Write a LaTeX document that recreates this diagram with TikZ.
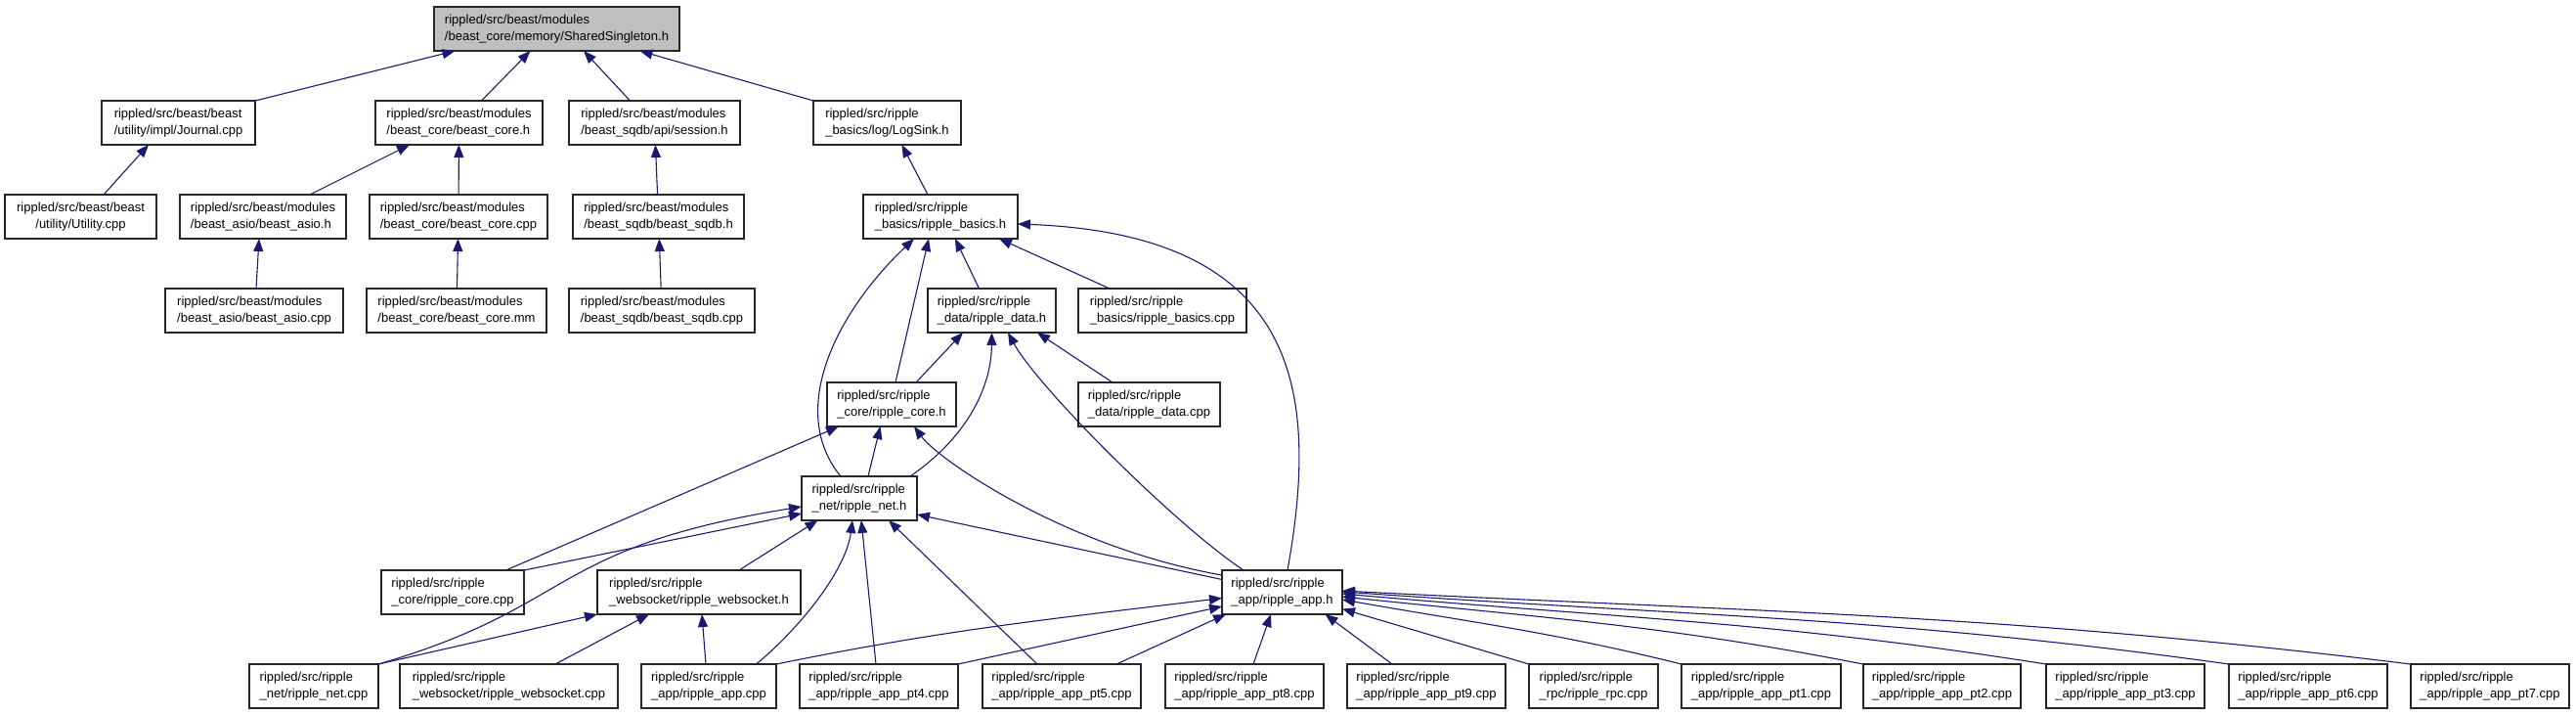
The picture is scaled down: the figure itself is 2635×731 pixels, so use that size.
\documentclass[tikz,border=0pt]{standalone}
\usepackage{fontspec}
\setmainfont{Liberation Sans}
\usetikzlibrary{positioning,arrows.meta}
\definecolor{edgeblue}{RGB}{25,25,112}

\begin{document}
\begin{tikzpicture}[x=1pt,y=1pt,
  file/.style={rectangle,draw=black!85,line width=1.2pt,fill=white,inner sep=0pt,outer sep=0pt,minimum height=45pt,minimum width=#1,align=left,font=\fontsize{13pt}{16.7pt}\selectfont},
  root/.style={file=#1,fill=black!25},
  dep/.style={->,>={Triangle[length=13pt,width=10pt]},draw=edgeblue,line width=1.1pt},
]
\useasboundingbox (0,0) rectangle (2635,-731);

% Level 1: the header itself
\node[root=251pt] (shared) at (569.5,-29.5) {rippled/src/beast/modules\\/beast\_core/memory/SharedSingleton.h};

% Level 2
\node[file=157pt] (journal) at (182.5,-125.5) {rippled/src/beast/beast\\/utility/impl/Journal.cpp};
\node[file=171pt] (bcoreh) at (469.5,-125.5) {rippled/src/beast/modules\\/beast\_core/beast\_core.h};
\node[file=175pt] (session) at (669.5,-125.5) {rippled/src/beast/modules\\/beast\_sqdb/api/session.h};
\node[file=151pt] (logsink) at (907.5,-125.5) {rippled/src/ripple\\\_basics/log/LogSink.h};

% Level 3
\node[file=155pt,align=center] (utility) at (82.5,-221.5) {rippled/src/beast/beast\\/utility/Utility.cpp};
\node[file=170pt] (basioh) at (269,-221.5) {rippled/src/beast/modules\\/beast\_asio/beast\_asio.h};
\node[file=182pt] (bcorecpp) at (469,-221.5) {rippled/src/beast/modules\\/beast\_core/beast\_core.cpp};
\node[file=175pt] (bsqdbh) at (673.5,-221.5) {rippled/src/beast/modules\\/beast\_sqdb/beast\_sqdb.h};
\node[file=158pt] (rbasicsh) at (962,-221.5) {rippled/src/ripple\\\_basics/ripple\_basics.h};

% Level 4
\node[file=182pt] (basiocpp) at (260,-317.5) {rippled/src/beast/modules\\/beast\_asio/beast\_asio.cpp};
\node[file=184pt] (bcoremm) at (467,-317.5) {rippled/src/beast/modules\\/beast\_core/beast\_core.mm};
\node[file=190pt] (bsqdbcpp) at (677,-317.5) {rippled/src/beast/modules\\/beast\_sqdb/beast\_sqdb.cpp};
\node[file=131pt] (rdatah) at (1014.5,-317.5) {rippled/src/ripple\\\_data/ripple\_data.h};
\node[file=172pt] (rbasicscpp) at (1189,-317.5) {rippled/src/ripple\\\_basics/ripple\_basics.cpp};

% Level 5
\node[file=132pt] (rcoreh) at (912,-413.5) {rippled/src/ripple\\\_core/ripple\_core.h};
\node[file=145pt] (rdatacpp) at (1175.5,-413.5) {rippled/src/ripple\\\_data/ripple\_data.cpp};

% Level 6
\node[file=118pt] (rneth) at (879,-509.5) {rippled/src/ripple\\\_net/ripple\_net.h};

% Level 7
\node[file=146pt] (rcorecpp) at (463,-605.5) {rippled/src/ripple\\\_core/ripple\_core.cpp};
\node[file=208pt] (wsh) at (715,-605.5) {rippled/src/ripple\\\_websocket/ripple\_websocket.h};
\node[file=123pt] (rapph) at (1311.5,-605.5) {rippled/src/ripple\\\_app/ripple\_app.h};

% Level 8: the sources
\node[file=132pt] (rnetcpp) at (321,-701.5) {rippled/src/ripple\\\_net/ripple\_net.cpp};
\node[file=223pt] (wscpp) at (520.5,-701.5) {rippled/src/ripple\\\_websocket/ripple\_websocket.cpp};
\node[file=138pt] (rappcpp) at (725,-701.5) {rippled/src/ripple\\\_app/ripple\_app.cpp};
\node[file=162pt] (pt4) at (899,-701.5) {rippled/src/ripple\\\_app/ripple\_app\_pt4.cpp};
\node[file=162pt] (pt5) at (1086,-701.5) {rippled/src/ripple\\\_app/ripple\_app\_pt5.cpp};
\node[file=162pt] (pt8) at (1273,-701.5) {rippled/src/ripple\\\_app/ripple\_app\_pt8.cpp};
\node[file=162pt,right=24pt of pt8] (pt9) {rippled/src/ripple\\\_app/ripple\_app\_pt9.cpp};
\node[file=132pt,right=24pt of pt9] (rpc) {rippled/src/ripple\\\_rpc/ripple\_rpc.cpp};
\node[file=163pt,right=24pt of rpc] (pt1) {rippled/src/ripple\\\_app/ripple\_app\_pt1.cpp};
\node[file=161pt,right=23pt of pt1] (pt2) {rippled/src/ripple\\\_app/ripple\_app\_pt2.cpp};
\node[file=162pt,right=26pt of pt2] (pt3) {rippled/src/ripple\\\_app/ripple\_app\_pt3.cpp};
\node[file=162pt,right=25pt of pt3] (pt6) {rippled/src/ripple\\\_app/ripple\_app\_pt6.cpp};
\node[file=162pt,right=24pt of pt6] (pt7) {rippled/src/ripple\\\_app/ripple\_app\_pt7.cpp};

% beast includes
\draw[dep] (journal.north east) -- ([xshift=-104pt]shared.south);
\draw[dep] ([xshift=23pt]bcoreh.north) -- ([xshift=-27pt]shared.south);
\draw[dep] ([xshift=-25pt]session.north) -- ([xshift=27.5pt]shared.south);
\draw[dep] (logsink.north west) -- ([xshift=85pt]shared.south);
\draw[dep] ([xshift=23.5pt]utility.north) -- ([xshift=-30.5pt]journal.south);
\draw[dep] ([xshift=48pt]basioh.north) -- ([xshift=-50.5pt]bcoreh.south);
\draw[dep] (bcorecpp) -- (bcoreh);
\draw[dep] (bsqdbh) -- (session);
\draw[dep] ([xshift=2pt]basiocpp.north) -- ([xshift=-4pt]basioh.south);
\draw[dep] (bcoremm) -- (bcorecpp);
\draw[dep] (bsqdbcpp) -- (bsqdbh);

% ripple_basics.h
\draw[dep] ([xshift=-13pt]rbasicsh.north) -- ([xshift=15pt]logsink.south);
\draw[dep] ([xshift=-13pt]rdatah.north) -- ([xshift=15pt]rbasicsh.south);
\draw[dep] ([xshift=-54pt]rbasicscpp.north) -- ([xshift=60pt]rbasicsh.south);
\draw[dep] ([xshift=4pt]rcoreh.north) -- ([xshift=-12pt]rbasicsh.south);
\draw[dep] ([xshift=-19pt]rneth.north) .. controls (805,-420) and (855,-320) .. ([xshift=-27pt]rbasicsh.south);
\draw[dep] ([xshift=5.5pt]rapph.north) .. controls (1350,-400) and (1330,-240) .. ([yshift=-7.5pt]rbasicsh.east);

% ripple_data.h
\draw[dep] ([xshift=25pt]rcoreh.north) -- ([xshift=-29.5pt]rdatah.south);
\draw[dep] ([xshift=52pt]rneth.north) .. controls (985,-450) and (1014,-400) .. (rdatah.south);
\draw[dep] ([xshift=-39.5pt]rapph.north) .. controls (1200,-535) and (1061,-395) .. ([xshift=16.5pt]rdatah.south);
\draw[dep] ([xshift=-37.5pt]rdatacpp.north) -- ([xshift=46.5pt]rdatah.south);

% ripple_core.h
\draw[dep] ([xshift=54.5pt]rcorecpp.north) -- ([xshift=-54pt]rcoreh.south);
\draw[dep] ([xshift=9pt]rneth.north) -- ([xshift=-11.5pt]rcoreh.south);
\draw[dep] ([yshift=17.5pt]rapph.west) .. controls (1090,-560) and (960,-470) .. ([xshift=23pt]rcoreh.south);

% ripple_net.h
\draw[dep] (rcorecpp.north east) -- ([yshift=-15.5pt]rneth.west);
\draw[dep] (rnetcpp.north east) .. controls (590,-620) and (560,-560) .. ([yshift=-8.5pt]rneth.west);
\draw[dep] ([xshift=41pt]wsh.north) -- ([xshift=-42.5pt]rneth.south);
\draw[dep] ([xshift=48.5pt]rappcpp.north) .. controls (815,-645) and (865,-585) .. ([xshift=-7pt]rneth.south);
\draw[dep] ([xshift=-3pt]pt4.north) -- ([xshift=2pt]rneth.south);
\draw[dep] ([xshift=-25pt]pt5.north) -- ([xshift=30pt]rneth.south);
\draw[dep] ([yshift=13pt]rapph.west) -- ([yshift=-16.5pt]rneth.east);

% ripple_websocket.h
\draw[dep] (rnetcpp.north east) -- (wsh.south west);
\draw[dep] ([xshift=47.5pt]wscpp.north) -- ([xshift=-51pt]wsh.south);
\draw[dep] ([xshift=-3pt]rappcpp.north) -- ([xshift=3pt]wsh.south);

% ripple_app.h
\draw[dep] (rappcpp.north east) .. controls (971,-643) and (1071,-633.5) .. ([yshift=-6pt]rapph.west);
\draw[dep] (pt4.north east) -- ([yshift=-14.5pt]rapph.west);
\draw[dep] ([xshift=56pt]pt5.north) -- ([xshift=4pt]rapph.south west);
\draw[dep] ([xshift=9pt]pt8.north) -- ([xshift=-11.5pt]rapph.south);
\draw[dep] ([xshift=-35pt]pt9.north) -- ([xshift=44pt]rapph.south);
\draw[dep] (rpc.north west) -- ([yshift=-17pt]rapph.east);
\draw[dep] (pt1.north west) .. controls (1587,-646) and (1509,-637) .. ([yshift=-7.5pt]rapph.east);
\draw[dep] (pt2.north west) .. controls (1701,-639) and (1582,-632) .. ([yshift=-4.5pt]rapph.east);
\draw[dep] (pt3.north west) .. controls (1814,-635) and (1655,-632) .. ([yshift=-1.5pt]rapph.east);
\draw[dep] (pt6.north west) .. controls (1928,-630) and (1728,-630) .. ([yshift=0.5pt]rapph.east);
\draw[dep] (pt7.north west) .. controls (2042,-627) and (1800,-626) .. ([yshift=1.5pt]rapph.east);
\end{tikzpicture}
\end{document}
